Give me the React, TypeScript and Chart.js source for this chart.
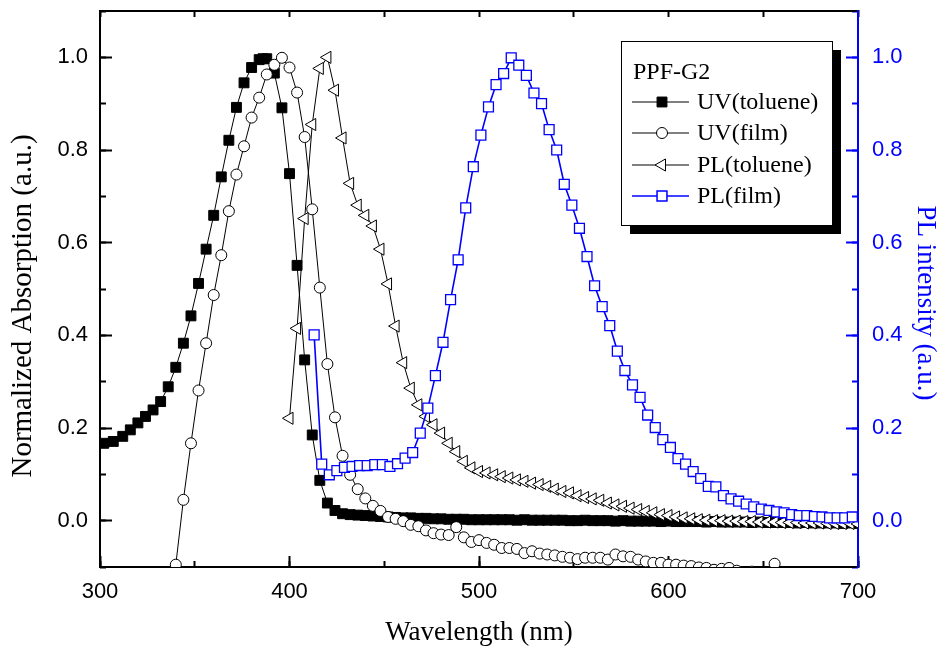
import React, { useEffect, useRef } from 'react';
import { Chart, registerables } from 'chart.js';

Chart.register(...registerables);

// ---------- DATA ----------
const uvTolX = [302, 307, 312, 316, 320, 324, 328, 332, 336, 340, 344, 348, 352, 356, 360, 364, 368, 372, 376, 380, 384, 386, 388, 392, 396, 400, 404, 408, 412, 416, 420,
  424, 428, 432, 436, 440, 444, 448, 452, 456, 460, 464, 468, 472, 476, 480, 484, 488, 492, 496, 500,
  504, 508, 512, 516, 520, 524, 528, 532, 536, 540, 544, 548, 552, 556, 560, 564, 568, 572, 576, 580,
  584, 588, 592, 596, 600, 604, 608, 612, 616, 620, 624, 628, 632, 636, 640, 644, 648, 652, 656, 660,
  664, 668, 672, 676, 680, 684, 688, 692, 696, 700];
const uvTolY = [0.167, 0.171, 0.182, 0.196, 0.211, 0.225, 0.239, 0.257, 0.289, 0.331, 0.383, 0.442, 0.512, 0.586, 0.659, 0.742, 0.821, 0.892, 0.945, 0.978, 0.995, 0.997, 0.997, 0.966, 0.891, 0.749, 0.551, 0.347, 0.185, 0.087, 0.038,
  0.022, 0.015, 0.013, 0.012, 0.011, 0.010, 0.009, 0.008, 0.007, 0.006, 0.006, 0.005, 0.005, 0.004, 0.004, 0.003, 0.003, 0.003, 0.002, 0.002,
  0.002, 0.002, 0.002, 0.002, 0.001, 0.002, 0.001, 0.001, 0.001, 0.001, 0.001, 0.000, 0.000, 0.001, 0.000, 0.000, 0.000, -0.001, 0.000, -0.001,
  -0.001, -0.001, -0.001, -0.002, -0.001, -0.002, -0.002, -0.002, -0.002, -0.003, -0.002, -0.003, -0.003, -0.003, -0.003, -0.004, -0.003, -0.004, -0.004, -0.004,
  -0.004, -0.005, -0.004, -0.005, -0.005, -0.005, -0.005, -0.006, -0.005, -0.006];

const uvFilmX = [340, 344, 348, 352, 356, 360, 364, 368, 372, 376, 380, 384, 388, 392, 396, 400, 404, 408, 412, 416, 420,
  424, 428, 432, 436, 440, 444, 448, 452, 456, 460, 464, 468, 472, 476, 480, 484, 488, 492, 496, 500,
  504, 508, 512, 516, 520, 524, 528, 532, 536, 540, 544, 548, 552, 556, 560, 564, 568, 572, 576, 580,
  584, 588, 592, 596, 600, 604, 608, 612, 616, 620, 624, 628, 632, 636, 640, 644, 648, 652, 656, 660,
  664, 668, 672, 676, 680, 684, 688, 692, 696, 700];
const uvFilmY = [-0.095, 0.045, 0.167, 0.281, 0.383, 0.487, 0.573, 0.668, 0.747, 0.808, 0.870, 0.913, 0.963, 0.984, 0.999, 0.978, 0.924, 0.828, 0.672, 0.503, 0.338,
  0.223, 0.140, 0.099, 0.068, 0.048, 0.032, 0.021, 0.008, 0.004, -0.001, -0.009, -0.012, -0.021, -0.027, -0.030, -0.031, -0.014, -0.036, -0.046, -0.042,
  -0.048, -0.052, -0.059, -0.059, -0.061, -0.070, -0.066, -0.071, -0.073, -0.075, -0.078, -0.080, -0.083, -0.080, -0.080, -0.080, -0.084, -0.073, -0.077, -0.078,
  -0.084, -0.088, -0.091, -0.091, -0.095, -0.095, -0.097, -0.098, -0.101, -0.102, -0.106, -0.104, -0.102, -0.108, -0.112, -0.110, -0.115, -0.125, -0.093, -0.128,
  -0.121, -0.124, -0.126, -0.125, -0.128, -0.127, -0.130, -0.129, -0.131, -0.132];

const plTolX = [400, 404, 408, 412, 416, 420, 424, 428, 432, 436, 440, 444, 448, 452, 456, 460, 464, 468, 472, 476, 480,
  484, 488, 492, 496, 500, 504, 508, 512, 516, 520, 524, 528, 532, 536, 540, 544, 548, 552, 556, 560,
  564, 568, 572, 576, 580, 584, 588, 592, 596, 600, 604, 608, 612, 616, 620, 624, 628, 632, 636, 640,
  644, 648, 652, 656, 660, 664, 668, 672, 676, 680, 684, 688, 692, 696, 700];
const plTolY = [0.221, 0.415, 0.652, 0.855, 0.976, 1.000, 0.929, 0.826, 0.728, 0.681, 0.659, 0.636, 0.586, 0.511, 0.420, 0.341, 0.286, 0.250, 0.225, 0.207, 0.189,
  0.167, 0.149, 0.128, 0.114, 0.106, 0.103, 0.099, 0.095, 0.092, 0.088, 0.085, 0.081, 0.078, 0.074, 0.068, 0.063, 0.060, 0.054, 0.050, 0.047,
  0.044, 0.038, 0.034, 0.031, 0.027, 0.024, 0.020, 0.017, 0.013, 0.011, 0.008, 0.006, 0.004, 0.002, 0.001, 0.000, 0.000, -0.001, -0.001, -0.002,
  -0.002, -0.003, -0.003, -0.003, -0.004, -0.004, -0.004, -0.005, -0.005, -0.005, -0.006, -0.006, -0.006, -0.006, -0.007];

const plFilmX = [413, 417, 421, 425, 429, 433, 437, 441, 445, 449, 453, 457, 461, 465, 469, 473, 477, 481, 485, 489, 493,
  497, 501, 505, 509, 513, 517, 521, 525, 529, 533, 537, 541, 545, 549, 553, 557, 561, 565, 569, 573,
  577, 581, 585, 589, 593, 597, 601, 605, 609, 613, 617, 621, 625, 629, 633, 637, 641, 645, 649, 653,
  657, 661, 665, 669, 673, 677, 681, 685, 689, 693, 697];
const plFilmY = [0.401, 0.122, 0.099, 0.108, 0.115, 0.117, 0.119, 0.119, 0.121, 0.121, 0.117, 0.123, 0.135, 0.147, 0.189, 0.243, 0.313, 0.385, 0.477, 0.563, 0.675,
  0.764, 0.832, 0.893, 0.941, 0.965, 0.999, 0.983, 0.961, 0.923, 0.900, 0.844, 0.800, 0.726, 0.681, 0.631, 0.570, 0.507, 0.462, 0.421, 0.366,
  0.324, 0.293, 0.266, 0.228, 0.201, 0.175, 0.158, 0.134, 0.122, 0.106, 0.091, 0.074, 0.073, 0.054, 0.047, 0.042, 0.036, 0.030, 0.025, 0.022,
  0.019, 0.017, 0.013, 0.011, 0.011, 0.009, 0.008, 0.006, 0.006, 0.006, 0.008];

const seriesNames = ['UV(toluene)', 'UV(film)', 'PL(toluene)', 'PL(film)'];
const legendTitle = 'PPF-G2';
const xTickLabels = ['300', '400', '500', '600', '700'];
const yTickLabels = ['0.0', '0.2', '0.4', '0.6', '0.8', '1.0'];
const xTitle = 'Wavelength (nm)';
const yTitle = 'Normalized Absorption (a.u.)';
const y2Title = 'PL intensity (a.u.)';

// ---------- STYLE ----------
const BLUE = '#0000ff';
const SERIF = "'Liberation Serif', 'Times New Roman', serif";
const SANS = "'Liberation Sans', Arial, sans-serif";

const toPoints = (xs: number[], ys: number[]) => xs.map((x, i) => ({ x, y: ys[i] }));

function drawMarker(ctx: CanvasRenderingContext2D, style: string, x: number, y: number, r: number, fill: string, stroke: string, lw: number) {
  ctx.save();
  ctx.beginPath();
  if (style === 'rect') {
    const s = Math.SQRT1_2 * r;
    ctx.rect(x - s, y - s, 2 * s, 2 * s);
  } else if (style === 'circle') {
    ctx.arc(x, y, r, 0, Math.PI * 2);
  } else {
    const rad = -Math.PI / 2;
    const tt = (2 * Math.PI) / 3;
    ctx.moveTo(x + Math.sin(rad) * r, y - Math.cos(rad) * r);
    ctx.lineTo(x + Math.sin(rad + tt) * r, y - Math.cos(rad + tt) * r);
    ctx.lineTo(x + Math.sin(rad + 2 * tt) * r, y - Math.cos(rad + 2 * tt) * r);
    ctx.closePath();
  }
  ctx.fillStyle = fill;
  ctx.fill();
  ctx.lineWidth = lw;
  ctx.strokeStyle = stroke;
  ctx.stroke();
  ctx.restore();
}

const legendItems = [
  { name: seriesNames[0], style: 'rect', r: 7, fill: '#000', stroke: '#000', line: '#000', lw: 1 },
  { name: seriesNames[1], style: 'circle', r: 5.5, fill: '#fff', stroke: '#000', line: '#000', lw: 1 },
  { name: seriesNames[2], style: 'triangleLeft', r: 7, fill: '#fff', stroke: '#000', line: '#000', lw: 1 },
  { name: seriesNames[3], style: 'rect', r: 7, fill: '#fff', stroke: BLUE, line: BLUE, lw: 1.5 },
];

const decorPlugin = {
  id: 'decorAll',
  afterDraw(chart: any) {
    const ctx: CanvasRenderingContext2D = chart.ctx;
    // ---- legend box with shadow ----
    ctx.save();
    const bx = 621, by = 41, bw = 211, bh = 184, sh = 9;
    ctx.fillStyle = '#000';
    ctx.fillRect(bx + sh, by + sh, bw, bh);
    ctx.fillStyle = '#fff';
    ctx.fillRect(bx, by, bw, bh);
    ctx.strokeStyle = '#000';
    ctx.lineWidth = 1;
    ctx.strokeRect(bx + 0.5, by + 0.5, bw, bh);
    ctx.font = `24px ${SERIF}`;
    ctx.textAlign = 'left';
    ctx.textBaseline = 'middle';
    ctx.fillStyle = '#000';
    ctx.fillText(legendTitle, 633, 73);
    const rows = [102, 133, 165, 196];
    legendItems.forEach((it, i) => {
      const yy = rows[i];
      ctx.strokeStyle = it.line;
      ctx.lineWidth = it.lw;
      ctx.beginPath();
      ctx.moveTo(632, yy);
      ctx.lineTo(689, yy);
      ctx.stroke();
      drawMarker(ctx, it.style, 662, yy, it.r, it.fill, it.stroke, it.lw);
      ctx.fillStyle = '#000';
      ctx.fillText(it.name, 697, yy + 1);
    });
    ctx.restore();

    // ---- y titles ----
    ctx.save();
    ctx.textAlign = 'center';
    ctx.textBaseline = 'middle';
    ctx.fillStyle = '#000';
    ctx.font = `29px ${SERIF}`;
    ctx.translate(23, 306);
    ctx.rotate(-Math.PI / 2);
    ctx.fillText(yTitle, 0, 0);
    ctx.restore();
    ctx.save();
    ctx.textAlign = 'center';
    ctx.textBaseline = 'middle';
    ctx.font = `27px ${SERIF}`;
    ctx.fillStyle = BLUE;
    ctx.translate(925, 303);
    ctx.rotate(Math.PI / 2);
    ctx.fillText(y2Title, 0, 0);
    ctx.restore();
  },
};

const yTickCb = (v: any) => {
  const n = Math.abs(Number(v)) < 1e-9 ? 0 : Number(v);
  const s = n.toFixed(1);
  return yTickLabels.includes(s) ? s : '';
};
const xTickCb = (v: any) => (xTickLabels.includes(String(v)) ? String(v) : '');
const setMajorYTicks = (s: any) => { s.ticks = yTickLabels.map((l) => ({ value: Number(l) })); };

const zeroPad = (s: any) => { s.paddingTop = 0; s.paddingBottom = 0; s.paddingLeft = 0; s.paddingRight = 0; };

const inwardGrid = (len: number, color: string) => ({
  display: true, drawOnChartArea: false, drawTicks: true, tickLength: -len, tickWidth: 2, tickColor: color,
});

export default function App() {
  const ref = useRef<HTMLCanvasElement | null>(null);
  useEffect(() => {
    if (!ref.current) return;
    const chart = new Chart(ref.current, {
      type: 'line',
      data: {
        datasets: [
          {
            label: seriesNames[0], data: toPoints(uvTolX, uvTolY), xAxisID: 'x', yAxisID: 'y', order: 4,
            borderColor: '#000', borderWidth: 1, pointStyle: 'rect', pointRadius: 7,
            pointBackgroundColor: '#000', pointBorderColor: '#000', pointBorderWidth: 1, tension: 0, clip: 0,
          },
          {
            label: seriesNames[1], data: toPoints(uvFilmX, uvFilmY), xAxisID: 'x', yAxisID: 'y', order: 3,
            borderColor: '#000', borderWidth: 1, pointStyle: 'circle', pointRadius: 5.5,
            pointBackgroundColor: '#fff', pointBorderColor: '#000', pointBorderWidth: 1, tension: 0, clip: 0,
          },
          {
            label: seriesNames[2], data: toPoints(plTolX, plTolY), xAxisID: 'x', yAxisID: 'y2', order: 2,
            borderColor: '#000', borderWidth: 1, pointStyle: 'triangle', pointRotation: -90, pointRadius: 7,
            pointBackgroundColor: '#fff', pointBorderColor: '#000', pointBorderWidth: 1, tension: 0, clip: 0,
          },
          {
            label: seriesNames[3], data: toPoints(plFilmX, plFilmY), xAxisID: 'x', yAxisID: 'y2', order: 1,
            borderColor: BLUE, borderWidth: 1.6, pointStyle: 'rect', pointRadius: 7,
            pointBackgroundColor: '#fff', pointBorderColor: BLUE, pointBorderWidth: 1.3, tension: 0, clip: 0,
          },
        ] as any,
      },
      options: {
        responsive: false,
        maintainAspectRatio: false,
        animation: false,
        events: [],
        layout: { padding: { top: 11, left: 0, right: 0, bottom: 0 } },
        plugins: { legend: { display: false }, tooltip: { enabled: false } },
        scales: {
          x: {
            type: 'linear', position: 'bottom', min: 300, max: 700, weight: 0,
            afterFit: (s: any) => { s.height = 85; zeroPad(s); },
            grid: inwardGrid(11, '#000'),
            border: { display: true, color: '#000', width: 2 },
            ticks: {
              stepSize: 100, autoSkip: false, maxRotation: 0, includeBounds: false, padding: 23, color: '#000',
              font: { family: SANS, size: 22 }, callback: xTickCb,
            },
            title: {
              display: true, text: xTitle, color: '#000',
              font: { family: SERIF, size: 27 }, padding: { top: 0, bottom: 3 },
            },
          },
          xMinor: {
            type: 'linear', position: 'bottom', min: 300, max: 700, weight: -1,
            afterFit: (s: any) => { s.height = 0; zeroPad(s); },
            grid: inwardGrid(6, '#000'),
            border: { display: false },
            ticks: { stepSize: 50, autoSkip: false, includeBounds: false, display: false },
          },
          xTop: {
            type: 'linear', position: 'top', min: 300, max: 700,
            afterFit: (s: any) => { s.height = 0; zeroPad(s); },
            grid: inwardGrid(6, '#000'),
            border: { display: true, color: '#000', width: 2 },
            ticks: { stepSize: 50, autoSkip: false, includeBounds: false, display: false },
          },
          y: {
            type: 'linear', position: 'left', min: -0.1, max: 1.1, weight: 0,
            afterBuildTicks: setMajorYTicks,
            afterFit: (s: any) => { s.width = 100; zeroPad(s); },
            grid: inwardGrid(12, '#000'),
            border: { display: true, color: '#000', width: 2 },
            ticks: {
              autoSkip: false, padding: 24, color: '#000',
              font: { family: SANS, size: 22 }, callback: yTickCb,
            },
          },
          yMinor: {
            type: 'linear', position: 'left', min: -0.1, max: 1.1, weight: -1,
            afterFit: (s: any) => { s.width = 0; zeroPad(s); },
            grid: inwardGrid(6, '#000'),
            border: { display: false },
            ticks: { stepSize: 0.1, autoSkip: false, includeBounds: false, display: false },
          },
          y2: {
            type: 'linear', position: 'right', min: -0.1, max: 1.1, weight: 0,
            afterBuildTicks: setMajorYTicks,
            afterFit: (s: any) => { s.width = 92; zeroPad(s); },
            grid: inwardGrid(12, BLUE),
            border: { display: true, color: BLUE, width: 2 },
            ticks: {
              autoSkip: false, padding: 26, color: BLUE,
              font: { family: SANS, size: 22 }, callback: yTickCb,
            },
          },
          y2Minor: {
            type: 'linear', position: 'right', min: -0.1, max: 1.1, weight: -1,
            afterFit: (s: any) => { s.width = 0; zeroPad(s); },
            grid: inwardGrid(6, BLUE),
            border: { display: false },
            ticks: { stepSize: 0.1, autoSkip: false, includeBounds: false, display: false },
          },
        },
      } as any,
      plugins: [decorPlugin],
    });
    return () => chart.destroy();
  }, []);

  return (
    <div style={{ position: 'absolute', left: 0, top: 0, width: 950, height: 652, background: '#fff' }}>
      <canvas ref={ref} width={950} height={652} style={{ display: 'block', width: 950, height: 652 }} />
    </div>
  );
}
